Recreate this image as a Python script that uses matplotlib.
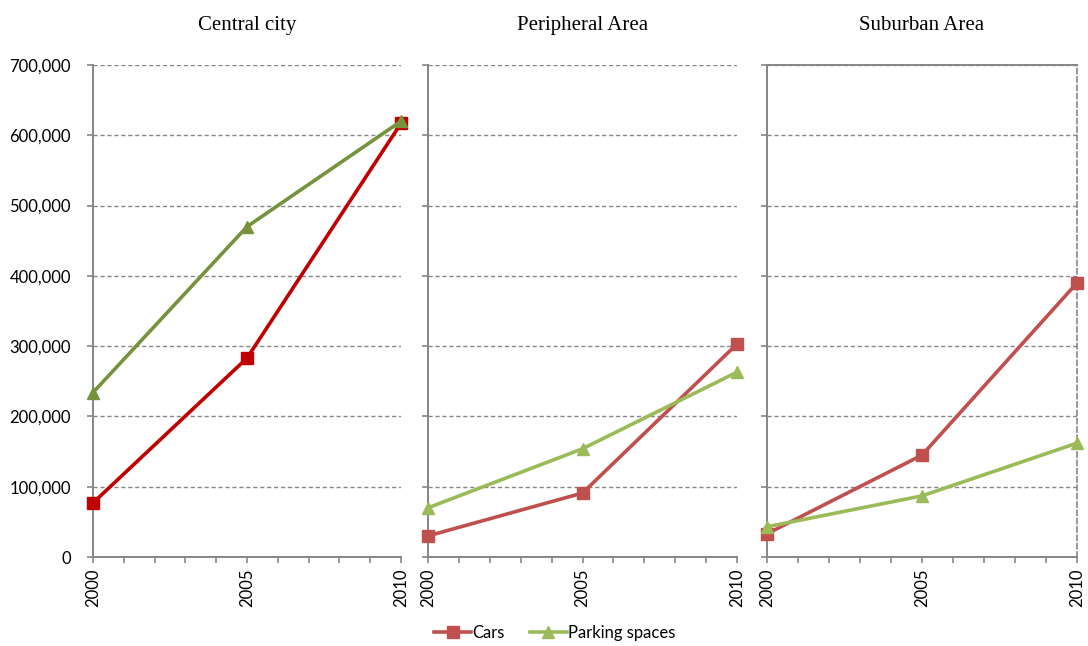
import matplotlib
matplotlib.use("Agg")
import matplotlib.pyplot as plt
from matplotlib.ticker import FuncFormatter, MultipleLocator
from matplotlib.lines import Line2D

years = [2000, 2005, 2010]
panel_titles = ["Central city", "Peripheral Area", "Suburban Area"]

cars_central = [77000, 283000, 617000]
parking_central = [234000, 470000, 620000]
cars_peripheral = [30000, 91000, 303000]
parking_peripheral = [70000, 154000, 263000]
cars_suburban = [33000, 145000, 390000]
parking_suburban = [43000, 87000, 162000]

y_ticks = [0, 100000, 200000, 300000, 400000, 500000, 600000, 700000]

cars_series = [cars_central, cars_peripheral, cars_suburban]
parking_series = [parking_central, parking_peripheral, parking_suburban]
cars_colors = ["#C00000", "#C0504D", "#C0504D"]
parking_colors = ["#76923C", "#9BBB59", "#9BBB59"]

GRAY = "#868686"
SANS = ["Lato", "DejaVu Sans"]

fig = plt.figure(figsize=(10.88, 6.46), dpi=100)
lefts = [93 / 1088, 428 / 1088, 767 / 1088]
widths = [308 / 1088, 309 / 1088, 310 / 1088]
bottom = 1 - 557 / 646
height = (557 - 65) / 646

for i in range(3):
    ax = fig.add_axes([lefts[i], bottom, widths[i], height])
    ax.set_xlim(2000, 2010)
    ax.set_ylim(0, 700000)
    ax.set_yticks(y_ticks)
    ax.set_xticks(years)
    ax.xaxis.set_minor_locator(MultipleLocator(1))
    ax.grid(axis="y", linestyle=(0, (3, 2)), color=GRAY, linewidth=1.0)
    ax.set_axisbelow(True)

    ax.plot(years, cars_series[i], color=cars_colors[i], lw=2.6, marker="s",
            markersize=9, clip_on=False, zorder=3)
    ax.plot(years, parking_series[i], color=parking_colors[i], lw=2.6, marker="^",
            markersize=9, clip_on=False, zorder=4)

    for side in ["left", "bottom"]:
        ax.spines[side].set_color(GRAY)
        ax.spines[side].set_linewidth(1.4)
    if i == 2:
        ax.spines["top"].set_color(GRAY)
        ax.spines["top"].set_linewidth(1.4)
        ax.spines["right"].set_color(GRAY)
        ax.spines["right"].set_linewidth(1.2)
        ax.spines["right"].set_linestyle((0, (3, 2)))
    else:
        ax.spines["top"].set_visible(False)
        ax.spines["right"].set_visible(False)

    ax.tick_params(axis="both", which="both", direction="out", color=GRAY,
                   length=4, width=1.2)
    ax.tick_params(axis="x", which="major", labelrotation=90, labelsize=12, pad=4)
    ax.tick_params(axis="y", labelsize=12, pad=12)
    if i == 0:
        ax.yaxis.set_major_formatter(FuncFormatter(lambda v, p: f"{int(v):,}"))
    else:
        ax.set_yticklabels([])
    for lab in ax.get_xticklabels() + ax.get_yticklabels():
        lab.set_family(SANS)

    ax.set_title(panel_titles[i], fontsize=15, family="Liberation Serif", pad=25)

handles = [
    Line2D([], [], color="#C0504D", lw=2.6, marker="s", markersize=9),
    Line2D([], [], color="#9BBB59", lw=2.6, marker="^", markersize=9),
]
fig.legend(handles, ["Cars", "Parking spaces"], loc="center", ncol=2,
           bbox_to_anchor=(0.51, 0.02), frameon=False, handlelength=2.2,
           handletextpad=0.1, columnspacing=1.5, prop={"family": SANS, "size": 12})

fig.savefig("out.png", dpi=100)
